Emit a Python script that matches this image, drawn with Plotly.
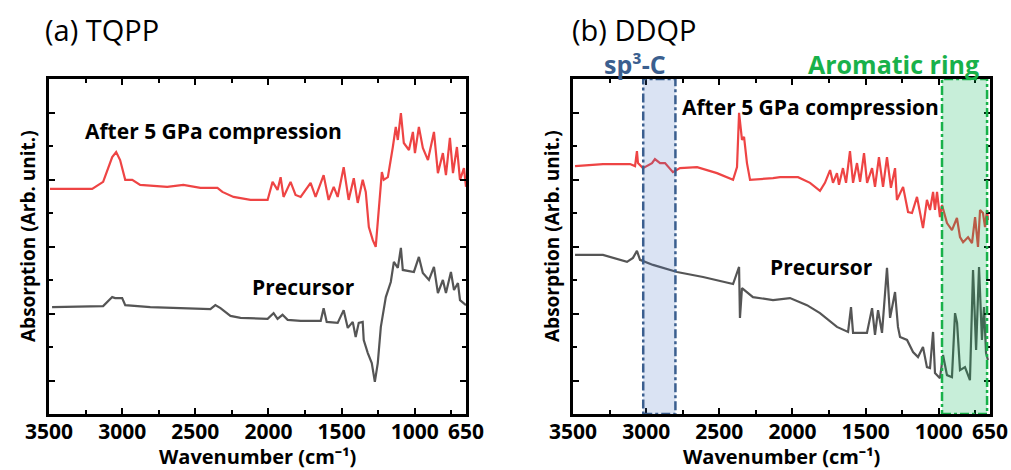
import plotly.graph_objects as go

# ---------------- (a) TQPP spectra ----------------
tqpp_after_wn = [3493, 3205, 3130, 3068, 3041, 3014, 2979, 2931, 2877, 2808, 2692, 2582, 2465, 2349, 2315,
                 2239, 2123, 2006, 1972, 1938, 1917, 1897, 1849, 1815, 1780, 1712, 1678, 1623, 1589, 1554,
                 1527, 1486, 1452, 1417, 1390, 1356, 1335, 1314, 1287, 1267, 1246, 1225, 1212, 1184, 1150,
                 1130, 1116, 1095, 1075, 1040, 1013, 999, 972, 945, 910, 869, 842, 808, 787, 760, 739, 712,
                 691, 664, 650]
tqpp_after_abs = [6.72, 6.72, 6.93, 7.67, 7.82, 7.58, 6.99, 6.99, 6.84, 6.81, 6.78, 6.84, 6.75, 6.75, 6.63,
                  6.48, 6.39, 6.39, 6.93, 6.69, 7.07, 6.48, 6.93, 6.54, 6.48, 6.90, 6.48, 7.13, 6.39, 6.78,
                  6.48, 7.37, 6.39, 7.04, 6.30, 6.99, 6.63, 5.58, 5.19, 4.99, 6.00, 7.22, 6.99, 7.07, 7.97,
                  8.57, 8.18, 8.98, 8.09, 7.88, 8.42, 7.79, 8.57, 7.94, 7.58, 8.42, 7.19, 7.79, 7.13, 8.24,
                  7.19, 7.97, 6.99, 7.34, 6.78]

tqpp_pre_wn = [3479, 3130, 3068, 3048, 3000, 2979, 2808, 2582, 2397, 2363, 2328, 2260, 2191, 2006, 1965,
               1938, 1904, 1869, 1780, 1643, 1623, 1602, 1527, 1486, 1458, 1424, 1404, 1383, 1356, 1349,
               1321, 1294, 1273, 1253, 1232, 1198, 1164, 1143, 1116, 1095, 1082, 1006, 972, 945, 903, 869,
               842, 808, 787, 753, 732, 705, 691, 650]
tqpp_pre_abs = [3.19, 3.22, 3.49, 3.46, 3.46, 3.25, 3.19, 3.16, 3.13, 3.25, 3.16, 2.93, 2.87, 2.84, 3.01,
                2.84, 2.96, 2.81, 2.78, 2.78, 3.16, 2.75, 2.72, 3.10, 2.57, 2.75, 2.30, 2.72, 2.75, 2.21,
                1.82, 1.52, 0.96, 1.52, 2.60, 3.49, 3.94, 4.54, 4.36, 4.96, 4.30, 4.24, 4.69, 4.21, 4.00, 4.39,
                3.61, 4.00, 3.61, 4.24, 3.70, 3.91, 3.40, 3.25]

# ---------------- (b) DDQP spectra ----------------
ddqp_after_wn = [3486, 3295, 3110, 3076, 3063, 3056, 3022, 2960, 2940, 2905, 2871, 2817, 2769, 2652, 2516,
                 2406, 2379, 2365, 2345, 2331, 2311, 2290, 2133, 2085, 1962, 1880, 1812, 1778, 1743, 1723,
                 1696, 1682, 1655, 1634, 1607, 1586, 1559, 1538, 1511, 1490, 1456, 1436, 1409, 1381, 1354,
                 1327, 1299, 1286, 1244, 1210, 1183, 1149, 1108, 1081, 1060, 1039, 1026, 1012, 992, 978,
                 944, 910, 876, 855, 834, 800, 773, 752, 732, 718, 698, 684, 670, 664]
ddqp_after_abs = [7.40, 7.46, 7.46, 7.40, 7.85, 7.49, 7.34, 7.49, 7.61, 7.49, 7.49, 7.22, 7.34, 7.37, 7.19,
                  6.99, 7.37, 8.99, 8.18, 8.27, 7.49, 6.99, 7.04, 7.07, 7.07, 6.90, 6.66, 6.90, 7.28, 6.90,
                  7.19, 6.84, 7.34, 6.90, 7.85, 6.90, 7.49, 6.93, 7.79, 6.90, 7.34, 6.78, 7.67, 6.78, 7.67,
                  6.75, 7.34, 6.39, 6.78, 6.03, 6.00, 6.48, 5.55, 6.39, 6.09, 6.63, 6.09, 6.63, 5.88, 6.24,
                  5.70, 5.49, 5.85, 5.28, 5.13, 5.28, 5.10, 5.88, 4.99, 6.09, 6.00, 5.58, 6.09, 5.79]

ddqp_pre_wn = [3486, 3295, 3131, 3090, 3063, 3042, 2953, 2789, 2611, 2406, 2365, 2359, 2345, 2270, 2133,
               2017, 1901, 1812, 1696, 1620, 1600, 1586, 1491, 1456, 1436, 1415, 1388, 1354, 1333, 1299,
               1279, 1265, 1217, 1176, 1142, 1108, 1081, 1060, 1039, 1026, 992, 971, 944, 910, 889, 875,
               855, 821, 787, 766, 745, 725, 705, 691, 677, 664]
ddqp_pre_abs = [4.75, 4.75, 4.54, 4.66, 4.87, 4.60, 4.45, 4.24, 4.09, 3.88, 4.39, 2.87, 3.76, 3.49, 3.40,
                3.46, 3.25, 3.01, 2.60, 2.45, 3.19, 2.42, 2.42, 3.16, 2.36, 3.10, 2.42, 4.36, 2.87, 3.64,
                2.60, 2.30, 2.21, 1.85, 1.70, 2.00, 1.40, 1.37, 2.45, 1.22, 1.07, 1.76, 1.16, 1.10, 3.01, 2.72,
                1.31, 1.40, 1.01, 4.30, 1.91, 4.39, 2.21, 3.19, 1.82, 1.61]

# highlighted bands (wavenumber limits)
sp3_band = [3020, 2800]
aromatic_band = [978, 670]

x_tickvals = [3500, 3000, 2500, 2000, 1500, 1000, 650]
x_minor = [3250, 2750, 2250, 1750, 1250, 750]
y_major = [1, 3, 5, 7, 9]
y_minor = [2, 4, 6, 8]

RED = "#ee4444"
GRAY = "#555555"
FONT = "Open Sans"
W, H = 1011, 470


def px(x):
    return x / W


def py(y):
    return 1 - y / H


fig = go.Figure()
fig.add_trace(go.Scatter(x=tqpp_after_wn, y=tqpp_after_abs, mode="lines",
                         line=dict(color=RED, width=2.2), xaxis="x", yaxis="y"))
fig.add_trace(go.Scatter(x=tqpp_pre_wn, y=tqpp_pre_abs, mode="lines",
                         line=dict(color=GRAY, width=2.2), xaxis="x", yaxis="y"))
fig.add_trace(go.Scatter(x=ddqp_after_wn, y=ddqp_after_abs, mode="lines",
                         line=dict(color=RED, width=2.2), xaxis="x2", yaxis="y2"))
fig.add_trace(go.Scatter(x=ddqp_pre_wn, y=ddqp_pre_abs, mode="lines",
                         line=dict(color=GRAY, width=2.2), xaxis="x2", yaxis="y2"))

ydom = [1 - 414 / H, 1 - 79 / H]

xaxis_common = dict(
    range=[3500, 650], tickmode="array", tickvals=x_tickvals, automargin=False,
    ticks="inside", ticklen=6, tickwidth=2, tickcolor="black", ticklabelstandoff=-3,
    minor=dict(tickmode="array", tickvals=x_minor, ticks="inside", ticklen=4,
               tickwidth=2, tickcolor="black"),
    showline=True, linewidth=2.5, linecolor="black", mirror="ticks",
    showgrid=False, zeroline=False,
    tickfont=dict(family=FONT, size=21, color="black", weight="bold"),
)
yaxis_common = dict(
    range=[0, 10], tickmode="array", tickvals=y_major, showticklabels=False, automargin=False,
    ticks="inside", ticklen=6, tickwidth=2, tickcolor="black",
    minor=dict(tickmode="array", tickvals=y_minor, ticks="inside", ticklen=4,
               tickwidth=2, tickcolor="black"),
    showline=True, linewidth=2.5, linecolor="black", mirror="ticks",
    showgrid=False, zeroline=False, domain=ydom,
)

fig.update_layout(
    width=W, height=H, margin=dict(l=0, r=0, t=0, b=0, autoexpand=False),
    paper_bgcolor="white", plot_bgcolor="white", showlegend=False,
    xaxis=dict(domain=[49 / W, 466 / W], anchor="y", **xaxis_common),
    yaxis=dict(anchor="x", **yaxis_common),
    xaxis2=dict(domain=[573 / W, 990 / W], anchor="y2", **xaxis_common),
    yaxis2=dict(anchor="x2", **yaxis_common),
)

# highlighted bands, drawn over the spectra with translucent fill
fig.add_shape(type="rect", xref="x2", yref="y2", x0=sp3_band[0], x1=sp3_band[1], y0=0, y1=10,
              fillcolor="rgba(68,114,196,0.2)", layer="above",
              line=dict(color="#3b5f8f", width=2.5, dash="dashdot"))
fig.add_shape(type="rect", xref="x2", yref="y2", x0=aromatic_band[0], x1=aromatic_band[1], y0=0, y1=10,
              fillcolor="rgba(0,176,80,0.22)", layer="above",
              line=dict(color="#18b14a", width=2.5, dash="dashdot"))

bold = dict(family=FONT, size=21, color="black", weight="bold")
axis_title = dict(family=FONT, size=20, color="black", weight="bold")
ytitle = dict(family=FONT, size=19, color="black", weight="bold")
annotations = [
    dict(text="(a) TQPP", x=px(43), y=py(30), xanchor="left", yanchor="middle",
         font=dict(family=FONT, size=29, color="black")),
    dict(text="(b) DDQP", x=px(570), y=py(30), xanchor="left", yanchor="middle",
         font=dict(family=FONT, size=29, color="black")),
    dict(text="After 5 GPa compression", x=px(213), y=py(131), xanchor="center", yanchor="middle", font=bold),
    dict(text="Precursor", x=px(303), y=py(287), xanchor="center", yanchor="middle", font=bold),
    dict(text="After 5 GPa compression", x=px(810), y=py(107), xanchor="center", yanchor="middle", font=bold),
    dict(text="Precursor", x=px(821), y=py(267), xanchor="center", yanchor="middle", font=bold),
    dict(text="sp³-C", x=px(635), y=py(64), xanchor="center", yanchor="middle",
         font=dict(family=FONT, size=25, color="#3b5f8f", weight="bold")),
    dict(text="Aromatic ring", x=px(893), y=py(64), xanchor="center", yanchor="middle",
         font=dict(family=FONT, size=25, color="#18b14a", weight="bold")),
    dict(text="Absorption (Arb. unit.)", x=px(28), y=py(236), textangle=-90,
         xanchor="center", yanchor="middle", font=ytitle),
    dict(text="Absorption (Arb. unit.)", x=px(552), y=py(236), textangle=-90,
         xanchor="center", yanchor="middle", font=ytitle),
    dict(text="Wavenumber (cm⁻¹)", x=px(257), y=py(456), xanchor="center", yanchor="middle",
         font=axis_title),
    dict(text="Wavenumber (cm⁻¹)", x=px(781), y=py(456), xanchor="center", yanchor="middle",
         font=axis_title),
]
for a in annotations:
    a.update(xref="paper", yref="paper", showarrow=False)
fig.update_layout(annotations=annotations)

fig.write_html("out.html")
